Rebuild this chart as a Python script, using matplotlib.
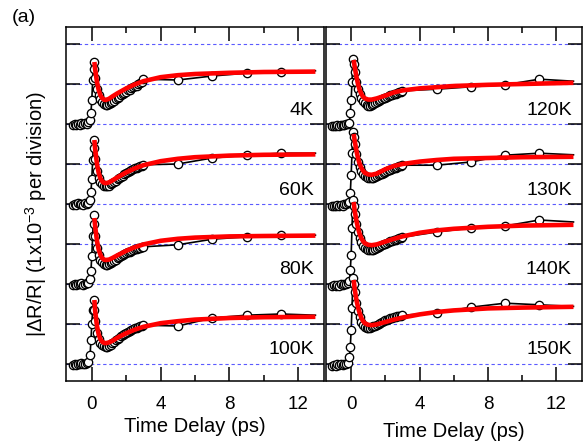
import numpy as np
import matplotlib
matplotlib.use("Agg")
import matplotlib.pyplot as plt

plt.rcParams['font.family'] = ['Liberation Sans', 'DejaVu Sans']
plt.rcParams['mathtext.default'] = 'regular'

# Sampling times (ps)
T_DENSE = [-1.1, -1.0, -0.9, -0.8, -0.7, -0.6, -0.5, -0.4, -0.3, -0.2,
           -0.1, -0.05, 0.0, 0.05, 0.1, 0.15, 0.2, 0.3, 0.4, 0.5, 0.6, 0.7,
           0.8, 0.9, 1.0, 1.1, 1.2, 1.3, 1.4, 1.5, 1.6, 1.7, 1.8, 1.9, 2.0,
           2.1, 2.2, 2.3, 2.4, 2.5, 2.6, 2.7, 2.8, 2.9, 3.0]
T_SPARSE = [5.0, 7.0, 9.0, 11.0, 13.0]
T_FIT = [0.15, 0.2, 0.3, 0.4, 0.5, 0.6, 0.7, 0.8, 1.0, 1.2, 1.5, 2.0, 2.5,
         3.0, 4.0, 5.0, 6.0, 8.0, 10.0, 13.0]

# |dR/R| in units of 1e-3, measured relative to each trace's own baseline
LABELS_LEFT = ["4K", "60K", "80K", "100K"]
LABELS_RIGHT = ["120K", "130K", "140K", "150K"]
OFFSETS = [6, 4, 2, 0]

DENSE_4K = [-0.02, 0.0, -0.03, 0.01, -0.02, 0.02, 0.0, 0.03, 0.01, 0.04,
            0.1, 0.28, 0.6, 1.1, 1.56, 1.38, 1.15, 0.88, 0.72, 0.62, 0.56,
            0.51, 0.48, 0.47,
            0.50, 0.53, 0.56, 0.58, 0.62, 0.66, 0.68, 0.72, 0.75, 0.78, 0.80,
            0.84, 0.86, 0.90, 0.92, 0.95, 0.96, 1.00, 1.02, 1.06, 1.12]
SPARSE_4K = [1.1, 1.2, 1.27, 1.3, 1.33]
FIT_4K = [1.55, 1.35, 1.05, 0.85, 0.72, 0.65, 0.61, 0.6, 0.63, 0.69, 0.77,
          0.89, 0.99, 1.07, 1.17, 1.22, 1.25, 1.28, 1.3, 1.31]

DENSE_60K = [-0.03, 0.0, -0.02, 0.02, -0.01, 0.01, -0.02, 0.02, 0.0, 0.03,
             0.1, 0.3, 0.62, 1.1, 1.6, 1.4, 1.12, 0.82, 0.65, 0.55, 0.5,
             0.46, 0.44, 0.44,
             0.46, 0.49, 0.52, 0.55, 0.58, 0.62, 0.65, 0.68, 0.71, 0.75, 0.77,
             0.80, 0.82, 0.85, 0.87, 0.89, 0.91, 0.93, 0.95, 0.96, 0.98]
SPARSE_60K = [1.0, 1.15, 1.22, 1.27, 1.27]
FIT_60K = [1.6, 1.35, 1.0, 0.78, 0.64, 0.57, 0.53, 0.52, 0.54, 0.59, 0.67,
           0.79, 0.89, 0.97, 1.07, 1.13, 1.17, 1.21, 1.23, 1.24]

DENSE_80K = [-0.02, 0.01, -0.03, 0.0, -0.01, 0.02, -0.02, 0.01, 0.02, 0.03,
             0.12, 0.33, 0.7, 1.2, 1.72, 1.5, 1.2, 0.9, 0.72, 0.61, 0.55,
             0.5, 0.48, 0.48,
             0.50, 0.52, 0.55, 0.58, 0.61, 0.64, 0.67, 0.70, 0.72, 0.75, 0.77,
             0.79, 0.81, 0.83, 0.85, 0.87, 0.88, 0.90, 0.91, 0.92, 0.93]
SPARSE_80K = [0.98, 1.12, 1.18, 1.22, 1.22]
FIT_80K = [1.65, 1.42, 1.08, 0.86, 0.73, 0.65, 0.61, 0.6, 0.61, 0.65, 0.72,
           0.83, 0.92, 0.99, 1.08, 1.13, 1.16, 1.19, 1.2, 1.21]

DENSE_100K = [-0.03, 0.0, -0.02, 0.01, -0.01, 0.02, -0.01, 0.01, 0.02, 0.05,
              0.22, 0.6, 1.0, 1.35, 1.6, 1.35, 1.08, 0.78, 0.62, 0.53, 0.48,
              0.45, 0.43, 0.43,
              0.45, 0.48, 0.52, 0.56, 0.59, 0.63, 0.66, 0.69, 0.72, 0.75,
              0.78, 0.81, 0.83, 0.85, 0.87, 0.89, 0.91, 0.93, 0.94, 0.96,
              0.97]
SPARSE_100K = [0.95, 1.15, 1.22, 1.25, 1.22]
FIT_100K = [1.6, 1.3, 0.95, 0.74, 0.62, 0.56, 0.53, 0.52, 0.54, 0.58, 0.66,
            0.77, 0.86, 0.93, 1.02, 1.07, 1.11, 1.15, 1.17, 1.18]

DENSE_120K = [-0.05, -0.04, -0.05, -0.03, -0.04, -0.02, -0.03, -0.02, 0.0,
              0.0, 0.02, 0.27, 0.6, 1.05, 1.62, 1.5, 1.3, 1.05, 0.88, 0.75,
              0.65, 0.58, 0.52, 0.48,
              0.46, 0.46, 0.47, 0.50, 0.52, 0.55, 0.57, 0.60, 0.62, 0.64,
              0.66, 0.68, 0.70, 0.72, 0.73, 0.75, 0.76, 0.78, 0.80, 0.81,
              0.83]
SPARSE_120K = [0.87, 0.93, 0.98, 1.12, 1.07]
FIT_120K = [1.6, 1.45, 1.2, 1.0, 0.85, 0.75, 0.68, 0.64, 0.61, 0.61, 0.64,
            0.71, 0.79, 0.84, 0.89, 0.92, 0.95, 0.98, 1.0, 1.03]

DENSE_130K = [-0.05, -0.04, -0.06, -0.03, -0.05, -0.02, -0.04, -0.01, 0.0,
              0.02, 0.06, 0.27, 0.72, 1.27, 1.8, 1.68, 1.5, 1.25, 1.06, 0.93,
              0.83, 0.76, 0.71, 0.68,
              0.66, 0.65, 0.65, 0.66, 0.68, 0.70, 0.72, 0.74, 0.76, 0.78,
              0.80, 0.82, 0.84, 0.86, 0.88, 0.90, 0.91, 0.93, 0.94, 0.96,
              0.97]
SPARSE_130K = [0.97, 1.05, 1.22, 1.27, 1.23]
FIT_130K = [1.75, 1.6, 1.35, 1.15, 1.0, 0.9, 0.83, 0.78, 0.74, 0.73, 0.76,
            0.87, 0.95, 1.0, 1.06, 1.1, 1.13, 1.15, 1.17, 1.18]

DENSE_140K = [-0.05, -0.03, -0.06, -0.02, -0.04, -0.01, -0.03, 0.0, -0.01,
              0.02, 0.08, 0.35, 0.72, 1.4, 2.1, 1.95, 1.75, 1.5, 1.3, 1.15,
              1.04, 0.96, 0.91, 0.88,
              0.86, 0.85, 0.85, 0.86, 0.88, 0.90, 0.92, 0.95, 0.97, 0.99,
              1.01, 1.03, 1.05, 1.07, 1.08, 1.10, 1.11, 1.13, 1.14, 1.16,
              1.17]
SPARSE_140K = [1.3, 1.4, 1.45, 1.6, 1.55]
FIT_140K = [2.05, 1.85, 1.6, 1.4, 1.25, 1.14, 1.07, 1.02, 0.98, 0.97, 0.99,
            1.06, 1.13, 1.19, 1.28, 1.34, 1.38, 1.43, 1.46, 1.48]

DENSE_150K = [-0.04, -0.02, -0.05, -0.01, -0.03, 0.0, -0.02, 0.01, 0.0,
              0.03, 0.18, 0.43, 0.85, 1.4, 2.15, 2.0, 1.8, 1.52, 1.32, 1.17,
              1.06, 0.98, 0.93, 0.9,
              0.90, 0.91, 0.92, 0.94, 0.96, 0.98, 1.00, 1.03, 1.05, 1.07,
              1.09, 1.11, 1.12, 1.14, 1.15, 1.17, 1.18, 1.19, 1.20, 1.21,
              1.22]
SPARSE_150K = [1.27, 1.42, 1.52, 1.48, 1.44]
FIT_150K = [2.1, 1.9, 1.62, 1.42, 1.27, 1.15, 1.07, 1.02, 0.98, 0.97, 0.99,
            1.05, 1.11, 1.16, 1.24, 1.3, 1.34, 1.39, 1.41, 1.43]

LEFT = [(DENSE_4K, SPARSE_4K, FIT_4K), (DENSE_60K, SPARSE_60K, FIT_60K),
        (DENSE_80K, SPARSE_80K, FIT_80K), (DENSE_100K, SPARSE_100K, FIT_100K)]
RIGHT = [(DENSE_120K, SPARSE_120K, FIT_120K),
         (DENSE_130K, SPARSE_130K, FIT_130K),
         (DENSE_140K, SPARSE_140K, FIT_140K),
         (DENSE_150K, SPARSE_150K, FIT_150K)]

W, H = 583, 443
fig = plt.figure(figsize=(W / 100, H / 100), dpi=100)
ax_l = fig.add_axes([66 / W, 62 / H, 258 / W, 354 / H])
ax_r = fig.add_axes([325.5 / W, 62 / H, 256.5 / W, 354 / H])


def draw_panel(ax, traces, labels, xlabel_pad):
    ax.set_xlim(-1.5, 13.5)
    ax.set_ylim(-0.425, 8.425)
    for v in range(9):
        ax.axhline(v, color='#5b5bff', lw=0.8, ls=(0, (3, 2.5)), zorder=1)
    t_all = np.array(T_DENSE + T_SPARSE)
    for (dense, sparse, fit), lab, off in zip(traces, labels, OFFSETS):
        y_all = off + np.array(dense + sparse)
        ax.plot(t_all, y_all, '-', color='black', lw=1.2, zorder=2)
        ax.plot(t_all[:-1], y_all[:-1], 'o', ms=6, mfc='white', mec='black',
                mew=0.95, zorder=3)
        ax.plot(T_FIT, off + np.array(fit), color='red', lw=3.3, zorder=4,
                solid_capstyle='butt')
        ax.text(12.9, off + 0.35, lab, ha='right', va='center', fontsize=14)
    ax.set_xticks([0, 4, 8, 12])
    ax.set_xticks([2, 6, 10], minor=True)
    ax.set_yticks(range(9))
    ax.set_yticklabels([])
    ax.tick_params(which='both', direction='in', top=True, right=True,
                   width=1.1)
    ax.tick_params(which='major', length=10)
    ax.tick_params(which='minor', length=4.3)
    ax.tick_params(axis='x', labelsize=13.5, pad=11)
    for s in ax.spines.values():
        s.set_linewidth(1.1)
    ax.set_xlabel('Time Delay (ps)', fontsize=14.5, labelpad=xlabel_pad)


draw_panel(ax_l, LEFT, LABELS_LEFT, 3)
draw_panel(ax_r, RIGHT, LABELS_RIGHT, 6)

fig.text(36 / W, 1 - 214 / H, r'|ΔR/R| (1x10$^{-3}$ per division)',
         rotation=90, ha='center', va='center', fontsize=14.5)
fig.text(12 / W, 1 - 18 / H, '(a)', ha='left', va='center', fontsize=14)

fig.savefig('out.png', dpi=100)
